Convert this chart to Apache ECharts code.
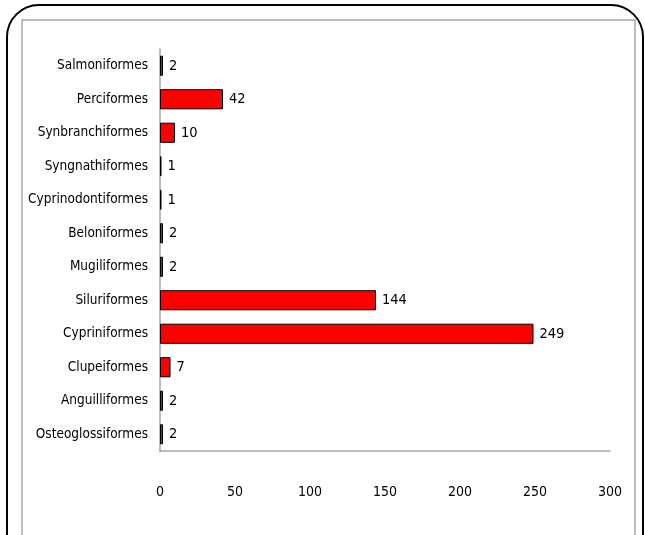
<!DOCTYPE html>
<html><head><meta charset="utf-8">
<script src="https://cdn.jsdelivr.net/npm/echarts@6/dist/echarts.min.js"></script>
<style>html,body{margin:0;padding:0;background:#fff}#c{width:645px;height:535px}</style>
</head><body><div id="c"></div>
<script>
const categories = ["Salmoniformes","Perciformes","Synbranchiformes","Syngnathiformes","Cyprinodontiformes","Beloniformes","Mugiliformes","Siluriformes","Cypriniformes","Clupeiformes","Anguilliformes","Osteoglossiformes"];
const values = [2,42,10,1,1,2,2,144,249,7,2,2];
const xTicks = {min:0, max:300, interval:50};
const FONT = '"DejaVu Sans Condensed","Liberation Sans Narrow",sans-serif';
const chart = echarts.init(document.getElementById('c'), null, {renderer:'canvas'});
chart.setOption({
  animation:false,
  backgroundColor:'#fff',
  graphic:[
    {type:'rect', shape:{x:7,y:5,width:636,height:620,r:32}, style:{fill:'none',stroke:'#000',lineWidth:2}, z:-1},
    {type:'rect', shape:{x:22,y:20,width:613,height:600}, style:{fill:'none',stroke:'#a6a6a6',lineWidth:1.5}, z:-1}
  ],
  grid:{left:160, top:49, right:35, bottom:84, containLabel:false},
  xAxis:{type:'value', min:xTicks.min, max:xTicks.max, interval:xTicks.interval,
    axisLine:{show:true, lineStyle:{color:'#a6a6a6', width:1.5}},
    axisTick:{show:false}, splitLine:{show:false},
    axisLabel:{margin:34, color:'#000', fontFamily:FONT, fontSize:14}},
  yAxis:{type:'category', data:categories, inverse:true,
    axisLine:{show:true, lineStyle:{color:'#a6a6a6', width:1.5}},
    axisTick:{show:false},
    axisLabel:{margin:12, color:'#000', fontFamily:FONT, fontSize:13.5}},
  series:[{type:'bar', data:values, barWidth:'60%',
    itemStyle:{color:'#ff0000', borderColor:'#000', borderWidth:1},
    label:{show:true, position:'right', distance:6, color:'#000', fontFamily:FONT, fontSize:14.5}}]
});
</script></body></html>
